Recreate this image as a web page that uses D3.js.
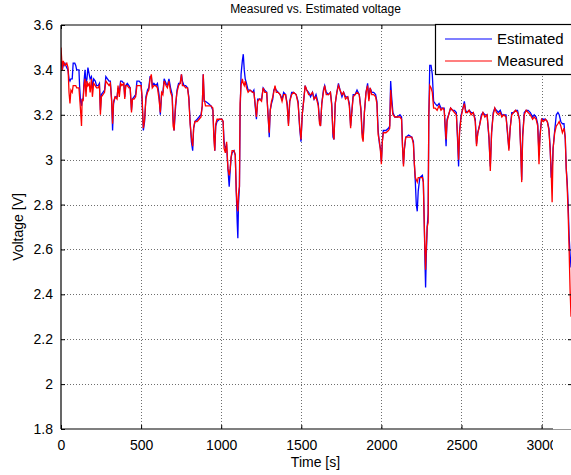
<!DOCTYPE html>
<html>
<head>
<meta charset="utf-8">
<script src="https://cdn.jsdelivr.net/npm/d3@7"></script>
<style>
  body { margin: 0; background: #fff; }
  svg { display: block; font-family: "Liberation Sans", Arial, sans-serif; }
</style>
</head>
<body>
<div id="chart"></div>
<script>
// Measured vs. estimated cell voltage
const xTicks = [0, 500, 1000, 1500, 2000, 2500, 3000];
const yTicks = [1.8, 2.0, 2.2, 2.4, 2.6, 2.8, 3.0, 3.2, 3.4, 3.6];
const seriesNames = ['Estimated', 'Measured'];

// [time s, voltage V]
const measured = [
  [0,3.50],[4,3.45],[8,3.40],[14,3.44],[24,3.42],[36,3.43],[44,3.41],[50,3.30],[56,3.25],[62,3.31],
  [70,3.30],[76,3.33],[86,3.33],[92,3.33],[98,3.32],[112,3.32],[116,3.28],[122,3.22],[128,3.15],[132,3.27],
  [138,3.26],[144,3.33],[150,3.36],[156,3.28],[162,3.35],[168,3.33],[176,3.34],[182,3.30],[190,3.36],[196,3.28],
  [204,3.34],[214,3.33],[222,3.32],[232,3.32],[240,3.33],[246,3.20],[252,3.28],[262,3.29],[272,3.30],[280,3.35],
  [290,3.34],[300,3.33],[308,3.34],[316,3.26],[322,3.16],[328,3.26],[338,3.28],[350,3.27],[356,3.33],[364,3.28],
  [372,3.34],[380,3.33],[392,3.34],[398,3.27],[404,3.33],[414,3.33],[424,3.32],[432,3.32],[440,3.21],[446,3.27],
  [456,3.27],[466,3.28],[474,3.33],[488,3.33],[500,3.33],[506,3.28],[514,3.14],[522,3.18],[530,3.27],[540,3.30],
  [548,3.31],[556,3.36],[564,3.38],[570,3.32],[580,3.33],[592,3.33],[602,3.32],[612,3.27],[620,3.21],[628,3.30],
  [636,3.29],[644,3.35],[656,3.33],[664,3.32],[674,3.35],[684,3.30],[694,3.28],[700,3.15],[706,3.13],[714,3.24],
  [724,3.30],[734,3.33],[744,3.34],[752,3.38],[758,3.33],[768,3.33],[778,3.32],[790,3.32],[798,3.27],[806,3.16],
  [814,3.10],[822,3.06],[828,3.14],[836,3.17],[850,3.17],[862,3.18],[874,3.19],[882,3.24],[888,3.38],[894,3.27],
  [902,3.24],[920,3.24],[936,3.24],[948,3.23],[954,3.10],[960,3.04],[966,3.16],[974,3.18],[990,3.18],[1004,3.18],
  [1012,3.17],[1018,3.05],[1026,3.03],[1034,3.08],[1042,2.96],[1050,2.93],[1056,2.96],[1062,3.01],[1068,3.04],[1080,3.04],
  [1088,3.02],[1094,2.86],[1100,2.79],[1104,2.77],[1108,2.85],[1114,2.88],[1118,3.25],[1124,3.33],[1132,3.36],[1138,3.34],
  [1144,3.33],[1150,3.35],[1158,3.32],[1168,3.30],[1180,3.31],[1196,3.30],[1204,3.30],[1212,3.25],[1220,3.19],[1228,3.26],
  [1240,3.27],[1252,3.26],[1262,3.32],[1272,3.30],[1284,3.30],[1292,3.20],[1300,3.12],[1306,3.22],[1314,3.26],[1322,3.28],
  [1328,3.30],[1336,3.33],[1344,3.30],[1356,3.30],[1368,3.29],[1380,3.26],[1390,3.29],[1402,3.29],[1412,3.24],[1420,3.15],
  [1428,3.26],[1440,3.29],[1452,3.30],[1468,3.29],[1480,3.25],[1490,3.15],[1498,3.09],[1506,3.20],[1516,3.27],[1524,3.33],
  [1534,3.31],[1546,3.29],[1558,3.29],[1570,3.30],[1580,3.27],[1592,3.28],[1606,3.24],[1614,3.16],[1620,3.15],[1628,3.25],
  [1638,3.30],[1646,3.33],[1656,3.29],[1670,3.29],[1682,3.30],[1690,3.24],[1698,3.12],[1704,3.09],[1712,3.25],[1722,3.30],
  [1732,3.33],[1742,3.31],[1754,3.29],[1764,3.30],[1776,3.27],[1790,3.28],[1800,3.24],[1808,3.14],[1814,3.20],[1824,3.28],
  [1836,3.29],[1848,3.30],[1862,3.29],[1872,3.22],[1880,3.10],[1886,3.08],[1894,3.21],[1904,3.30],[1914,3.33],[1922,3.26],
  [1930,3.32],[1940,3.29],[1952,3.29],[1964,3.28],[1972,3.25],[1980,3.11],[1988,3.08],[1994,3.04],[2000,2.98],[2006,3.08],
  [2012,3.12],[2028,3.12],[2044,3.13],[2052,3.14],[2058,3.31],[2064,3.25],[2072,3.20],[2084,3.19],[2100,3.19],[2116,3.19],
  [2126,3.18],[2132,3.06],[2138,2.97],[2144,3.05],[2152,3.10],[2170,3.10],[2190,3.10],[2200,3.07],[2206,2.98],[2212,2.92],
  [2218,2.91],[2224,2.90],[2230,2.92],[2240,2.92],[2256,2.92],[2262,2.90],[2268,2.70],[2272,2.60],[2276,2.51],[2280,2.60],
  [2286,2.70],[2292,2.72],[2296,3.20],[2302,3.33],[2310,3.32],[2318,3.30],[2326,3.23],[2336,3.23],[2348,3.22],[2360,3.24],
  [2372,3.22],[2384,3.23],[2392,3.22],[2398,3.16],[2404,3.09],[2410,3.17],[2420,3.20],[2432,3.23],[2444,3.22],[2456,3.21],
  [2468,3.20],[2476,3.10],[2482,3.00],[2488,3.12],[2498,3.19],[2506,3.22],[2518,3.25],[2526,3.21],[2536,3.21],[2548,3.22],
  [2560,3.20],[2574,3.21],[2586,3.17],[2594,3.06],[2602,3.12],[2612,3.15],[2624,3.19],[2634,3.21],[2646,3.19],[2660,3.20],
  [2672,3.10],[2680,2.95],[2688,3.12],[2698,3.20],[2708,3.23],[2718,3.21],[2730,3.20],[2742,3.21],[2752,3.19],[2764,3.20],
  [2778,3.19],[2788,3.12],[2796,3.04],[2804,3.14],[2814,3.20],[2826,3.21],[2838,3.22],[2850,3.21],[2862,3.18],[2870,3.04],
  [2876,2.90],[2882,3.10],[2892,3.20],[2904,3.22],[2916,3.21],[2930,3.20],[2944,3.18],[2954,3.19],[2966,3.18],[2976,3.15],
  [2984,2.98],[2990,3.10],[3000,3.18],[3012,3.17],[3024,3.18],[3036,3.17],[3046,3.13],[3054,3.04],[3060,2.95],[3066,2.81],
  [3072,3.05],[3082,3.12],[3092,3.15],[3102,3.16],[3110,3.17],[3120,3.15],[3130,3.12],[3140,3.14],[3148,3.10],[3154,2.96],
  [3160,2.88],[3166,2.76],[3172,2.60],[3178,2.42],[3184,2.30]
];

const estimated = [
  [0,3.44],[4,3.42],[8,3.40],[14,3.42],[24,3.43],[36,3.41],[44,3.40],[50,3.36],[56,3.35],[62,3.36],
  [70,3.36],[76,3.43],[86,3.43],[92,3.42],[98,3.40],[112,3.40],[116,3.33],[122,3.26],[128,3.24],[132,3.27],
  [138,3.27],[144,3.35],[150,3.40],[156,3.34],[162,3.36],[168,3.41],[176,3.38],[182,3.36],[190,3.37],[196,3.32],
  [204,3.36],[214,3.35],[222,3.33],[232,3.33],[240,3.34],[246,3.22],[252,3.29],[262,3.30],[272,3.31],[280,3.37],
  [290,3.36],[300,3.35],[308,3.35],[316,3.27],[322,3.13],[328,3.25],[338,3.28],[350,3.28],[356,3.32],[364,3.30],
  [372,3.35],[380,3.35],[392,3.34],[398,3.28],[404,3.33],[414,3.34],[424,3.33],[432,3.32],[440,3.22],[446,3.27],
  [456,3.28],[466,3.29],[474,3.35],[488,3.35],[500,3.34],[506,3.27],[514,3.13],[522,3.17],[530,3.28],[540,3.31],
  [548,3.32],[556,3.37],[564,3.37],[570,3.33],[580,3.34],[592,3.33],[602,3.34],[612,3.29],[620,3.20],[628,3.29],
  [636,3.30],[644,3.36],[656,3.34],[664,3.33],[674,3.36],[684,3.32],[694,3.29],[700,3.18],[706,3.13],[714,3.22],
  [724,3.31],[734,3.34],[744,3.34],[752,3.38],[758,3.35],[768,3.33],[778,3.33],[790,3.32],[798,3.28],[806,3.17],
  [814,3.08],[822,3.04],[828,3.14],[836,3.17],[850,3.18],[862,3.19],[874,3.20],[882,3.24],[888,3.38],[894,3.26],
  [902,3.26],[920,3.25],[936,3.24],[948,3.22],[954,3.12],[960,3.04],[966,3.15],[974,3.17],[990,3.18],[1004,3.18],
  [1012,3.17],[1018,3.08],[1026,3.05],[1034,3.06],[1042,2.96],[1050,2.88],[1056,2.95],[1062,3.01],[1068,3.03],[1080,3.04],
  [1088,3.02],[1094,2.86],[1100,2.72],[1104,2.65],[1108,2.80],[1114,2.88],[1118,3.20],[1124,3.38],[1132,3.44],[1138,3.47],
  [1144,3.40],[1150,3.36],[1158,3.34],[1168,3.31],[1180,3.31],[1196,3.30],[1204,3.31],[1212,3.24],[1220,3.18],[1228,3.27],
  [1240,3.27],[1252,3.27],[1262,3.32],[1272,3.31],[1284,3.30],[1292,3.21],[1300,3.10],[1306,3.22],[1314,3.25],[1322,3.27],
  [1328,3.31],[1336,3.32],[1344,3.31],[1356,3.30],[1368,3.29],[1380,3.27],[1390,3.30],[1402,3.29],[1412,3.25],[1420,3.16],
  [1428,3.26],[1440,3.30],[1452,3.30],[1468,3.29],[1480,3.26],[1490,3.14],[1498,3.08],[1506,3.20],[1516,3.27],[1524,3.33],
  [1534,3.31],[1546,3.30],[1558,3.28],[1570,3.30],[1580,3.27],[1592,3.29],[1606,3.25],[1614,3.17],[1620,3.15],[1628,3.25],
  [1638,3.31],[1646,3.33],[1656,3.30],[1670,3.29],[1682,3.30],[1690,3.25],[1698,3.10],[1704,3.09],[1712,3.25],[1722,3.30],
  [1732,3.34],[1742,3.31],[1754,3.28],[1764,3.30],[1776,3.28],[1790,3.28],[1800,3.25],[1808,3.15],[1814,3.20],[1824,3.29],
  [1836,3.29],[1848,3.31],[1862,3.29],[1872,3.23],[1880,3.12],[1886,3.09],[1894,3.21],[1904,3.30],[1914,3.34],[1922,3.27],
  [1930,3.32],[1940,3.30],[1952,3.30],[1964,3.29],[1972,3.26],[1980,3.13],[1988,3.07],[1994,3.05],[2000,2.99],[2006,3.08],
  [2012,3.13],[2028,3.13],[2044,3.14],[2052,3.15],[2058,3.35],[2064,3.28],[2072,3.21],[2084,3.19],[2100,3.19],[2116,3.20],
  [2126,3.19],[2132,3.06],[2138,2.98],[2144,3.05],[2152,3.10],[2170,3.11],[2190,3.10],[2200,3.08],[2206,2.98],[2212,2.90],
  [2218,2.80],[2224,2.77],[2230,2.86],[2240,2.92],[2256,2.93],[2262,2.90],[2268,2.71],[2272,2.55],[2276,2.43],[2280,2.56],
  [2286,2.70],[2292,2.76],[2296,3.18],[2302,3.42],[2310,3.42],[2318,3.38],[2326,3.26],[2336,3.25],[2348,3.24],[2360,3.25],
  [2372,3.23],[2384,3.23],[2392,3.23],[2398,3.14],[2404,3.06],[2410,3.18],[2420,3.20],[2432,3.23],[2444,3.22],[2456,3.22],
  [2468,3.21],[2476,3.08],[2482,2.97],[2488,3.13],[2498,3.20],[2506,3.22],[2518,3.26],[2526,3.22],[2536,3.21],[2548,3.22],
  [2560,3.21],[2574,3.21],[2586,3.18],[2594,3.07],[2602,3.12],[2612,3.15],[2624,3.20],[2634,3.21],[2646,3.20],[2660,3.20],
  [2672,3.09],[2680,2.97],[2688,3.12],[2698,3.21],[2708,3.23],[2718,3.22],[2730,3.21],[2742,3.22],[2752,3.20],[2764,3.20],
  [2778,3.20],[2788,3.11],[2796,3.05],[2804,3.14],[2814,3.21],[2826,3.21],[2838,3.22],[2850,3.22],[2862,3.18],[2870,3.05],
  [2876,2.91],[2882,3.11],[2892,3.21],[2904,3.22],[2916,3.22],[2930,3.21],[2944,3.19],[2954,3.20],[2966,3.19],[2976,3.16],
  [2984,3.02],[2990,3.11],[3000,3.18],[3012,3.18],[3024,3.18],[3036,3.17],[3046,3.14],[3054,3.05],[3060,2.92],[3066,2.95],
  [3072,3.05],[3082,3.13],[3092,3.20],[3102,3.21],[3110,3.20],[3120,3.17],[3130,3.16],[3140,3.16],[3148,3.09],[3154,2.96],
  [3160,2.90],[3166,2.80],[3172,2.66],[3178,2.58],[3184,2.52]
];

const W = 571, H = 475;
const plot = { left: 61, right: 572, top: 25, bottom: 429 };

const svg = d3.select('#chart').append('svg')
  .attr('width', W)
  .attr('height', H);

const x = d3.scaleLinear().domain([0, 3190]).range([plot.left, plot.right]);
const y = d3.scaleLinear().domain([1.8, 3.6]).range([plot.bottom, plot.top]);
const fmtY = d => String(+d.toFixed(1));

// grid
const grid = svg.append('g').attr('stroke', '#6e6e6e').attr('stroke-width', 1).attr('stroke-dasharray', '1,2');
grid.selectAll('.gx').data(xTicks.slice(1))
  .join('line')
  .attr('x1', d => Math.round(x(d)) + 0.5).attr('x2', d => Math.round(x(d)) + 0.5)
  .attr('y1', plot.top).attr('y2', plot.bottom);
grid.selectAll('.gy').data(yTicks.slice(1, -1))
  .join('line')
  .attr('x1', plot.left).attr('x2', plot.right)
  .attr('y1', d => Math.round(y(d)) + 0.5).attr('y2', d => Math.round(y(d)) + 0.5);

// data lines
svg.append('clipPath').attr('id', 'plotClip')
  .append('rect')
  .attr('x', plot.left).attr('y', plot.top)
  .attr('width', plot.right - plot.left).attr('height', plot.bottom - plot.top);

const line = d3.line().x(d => x(d[0])).y(d => y(d[1]));
const lines = svg.append('g').attr('clip-path', 'url(#plotClip)');
lines.append('path').datum(estimated)
  .attr('d', line).attr('fill', 'none').attr('stroke', '#0000ff').attr('stroke-width', 1.3);
lines.append('path').datum(measured)
  .attr('d', line).attr('fill', 'none').attr('stroke', '#ff0000').attr('stroke-width', 1.3);

// axes (MATLAB style: box, inward ticks)
// the bottom axis is cut off at x = 553 in the source image
svg.append('clipPath').attr('id', 'xAxisClip')
  .append('rect').attr('x', 0).attr('y', -10).attr('width', 553).attr('height', 60);

const xAxis = svg.append('g')
  .attr('transform', `translate(0,${plot.bottom})`)
  .attr('clip-path', 'url(#xAxisClip)')
  .call(d3.axisBottom(x).tickValues(xTicks).tickSizeInner(-4).tickSizeOuter(0).tickPadding(11).tickFormat(d3.format('d')));
xAxis.select('.domain').remove();
xAxis.selectAll('.tick line').attr('stroke', '#000');
xAxis.selectAll('.tick text')
  .attr('fill', '#000').attr('font-size', '14px')
  .attr('font-family', '"Liberation Sans", Arial, sans-serif');

const xTop = svg.append('g')
  .attr('transform', `translate(0,${plot.top})`)
  .call(d3.axisTop(x).tickValues(xTicks).tickSizeInner(-4).tickSizeOuter(0).tickFormat(''));
xTop.select('.domain').remove();

const yAxis = svg.append('g')
  .attr('transform', `translate(${plot.left},0)`)
  .call(d3.axisLeft(y).tickValues(yTicks).tickSizeInner(-4).tickSizeOuter(0).tickPadding(8).tickFormat(fmtY));
yAxis.select('.domain').remove();
yAxis.selectAll('.tick text')
  .attr('fill', '#000').attr('font-size', '14px')
  .attr('font-family', '"Liberation Sans", Arial, sans-serif');

const yRight = svg.append('g')
  .attr('transform', `translate(${plot.right},0)`)
  .call(d3.axisRight(y).tickValues(yTicks).tickSizeInner(-4).tickSizeOuter(0).tickFormat(''));
yRight.select('.domain').remove();

const frame = svg.append('g').attr('stroke', '#000').attr('stroke-width', 1.2);
frame.append('line').attr('x1', plot.left).attr('x2', plot.left).attr('y1', plot.top).attr('y2', plot.bottom);
frame.append('line').attr('x1', plot.left).attr('x2', W).attr('y1', plot.top).attr('y2', plot.top);
frame.append('line').attr('x1', plot.left).attr('x2', 553).attr('y1', plot.bottom).attr('y2', plot.bottom);
svg.append('line')
  .attr('x1', 553).attr('x2', W).attr('y1', plot.bottom + 0.5).attr('y2', plot.bottom + 0.5)
  .attr('stroke', '#999').attr('stroke-width', 1);

// titles
const cx = (plot.left + 570) / 2;
svg.append('text')
  .attr('x', cx).attr('y', 13)
  .attr('text-anchor', 'middle').attr('font-size', '12px')
  .text('Measured vs. Estimated voltage');
svg.append('text')
  .attr('x', cx).attr('y', 467)
  .attr('text-anchor', 'middle').attr('font-size', '14px')
  .text('Time [s]');
svg.append('text')
  .attr('transform', `translate(23,${(plot.top + plot.bottom) / 2}) rotate(-90)`)
  .attr('text-anchor', 'middle').attr('font-size', '14px')
  .text('Voltage [V]');

// legend
const legend = svg.append('g').attr('transform', 'translate(435,24)');
legend.append('rect')
  .attr('x', 0.5).attr('y', 0.5).attr('width', 150).attr('height', 50)
  .attr('fill', '#fff').attr('stroke', '#000').attr('stroke-width', 1.2);
const legendColors = ['#0000ff', '#ff0000'];
seriesNames.forEach((name, i) => {
  const ly = 15 + i * 22;
  legend.append('line')
    .attr('x1', 10).attr('x2', 57).attr('y1', ly).attr('y2', ly)
    .attr('stroke', legendColors[i]).attr('stroke-width', 1.1);
  legend.append('text')
    .attr('x', 62).attr('y', ly + 5)
    .attr('font-size', '15px')
    .text(name);
});
</script>
</body>
</html>
